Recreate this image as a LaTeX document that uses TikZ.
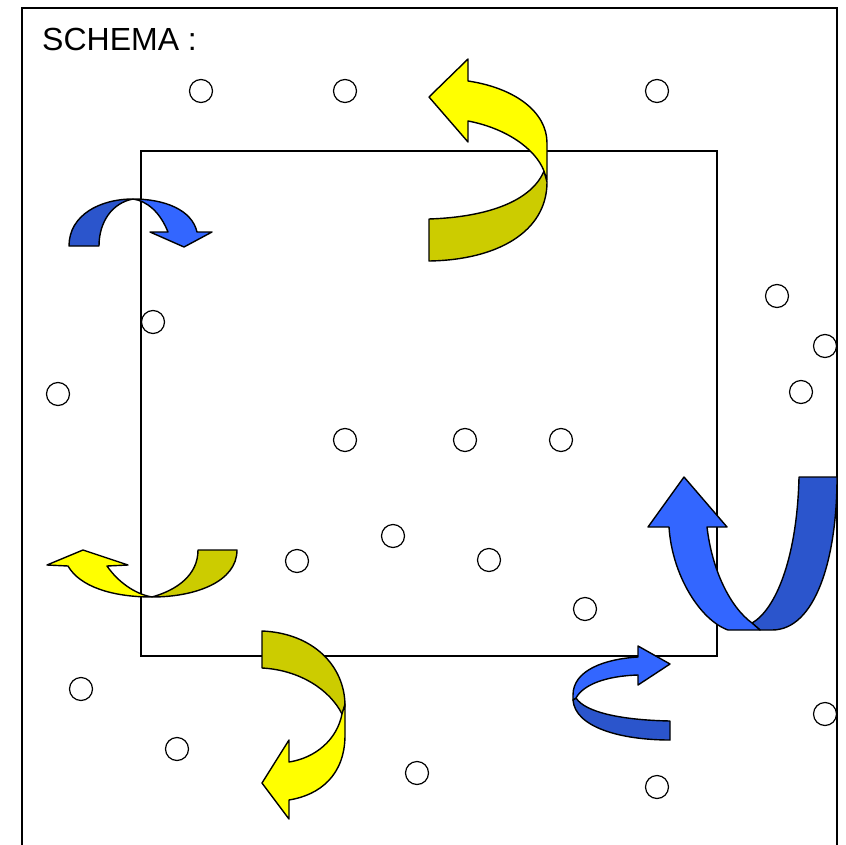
\documentclass[tikz,border=0pt]{standalone}
\usepackage{fontspec}
\setmainfont{Liberation Sans}
\definecolor{yelLight}{HTML}{FFFF00}
\definecolor{yelDark}{HTML}{CCCC00}
\definecolor{bluLight}{HTML}{3366FF}
\definecolor{bluDark}{HTML}{2B55CC}
\tikzset{
  frame/.style={draw=black, line width=1.4pt},
  dot/.style={circle, draw=black, line width=1.2pt, fill=white, minimum size=23pt, inner sep=0pt},
  band/.style={draw=black, line width=1.4pt, line join=round}
}
\begin{document}
\begin{tikzpicture}[x=1pt,y=-1pt]
\useasboundingbox (0,0) rectangle (845,845);
\fill[white] (0,0) rectangle (845,845);
% outer frame and inner rectangle
\begin{scope}
\clip (0,0) rectangle (845,845);
\draw[frame] (22,8) rectangle (837,880);
\end{scope}
\draw[frame] (141,151) rectangle (717,656);
\node[anchor=base west, inner sep=0pt, font=\fontsize{32}{38}\selectfont] (title) at (42,51) {SCHEMA :};

% particles
\foreach \n/\x/\y in {a/201/91, b/345/91, c/657/91, d/777/296, e/825/346, f/801/392,
  g/153/322, h/58/394, i/345/440, j/465/440, k/561/440, l/393/536, m/297/561,
  n/489/560, o/585/609, p/81/689, q/177/749, r/417/773, s/657/787, t/825/714}
  \node[dot] (p\n) at (\x,\y) {};

% top yellow arrow
\draw[band, fill=yelDark] (429,219) .. controls (490,217) and (532,200) .. (544,171)
  -- (547,182) .. controls (547,232) and (497,260) .. (429,261) -- cycle;
\draw[band, fill=yelLight] (544,171) -- (547,180) -- (547,143)
  .. controls (547,112) and (515,88) .. (468,81) -- (468,59) -- (429,97) -- (468,142) -- (468,121)
  .. controls (505,128) and (535,148) .. (544,171) -- cycle;

% top-left blue arrow
\draw[band, fill=bluDark] (69,246) .. controls (69,215) and (100,199) .. (133,199)
  .. controls (112,203) and (99,222) .. (99,246) -- cycle;
\draw[band, fill=bluLight] (133,199) .. controls (165,199) and (192,210) .. (197,232)
  -- (212,232) -- (184,247) -- (150,232) -- (168,232)
  .. controls (160,212) and (147,201) .. (133,199) -- cycle;

% left yellow arrow
\draw[band, fill=yelDark] (237,550) .. controls (237,582) and (195,597) .. (152,597)
  .. controls (177,590) and (198,575) .. (198,550) -- cycle;
\draw[band, fill=yelLight] (152,597) .. controls (113,597) and (80,587) .. (68,566)
  -- (47,565) -- (83,550) -- (128,565) -- (107,566)
  .. controls (118,582) and (135,594) .. (152,597) -- cycle;

% bottom yellow arrow
\draw[band, fill=yelDark] (262,631) .. controls (312,633) and (345,665) .. (345,706)
  -- (342,714) .. controls (330,690) and (300,670) .. (262,668) -- cycle;
\draw[band, fill=yelLight] (342,714) -- (345,704) -- (345,735)
  .. controls (345,775) and (320,795) .. (289,800) -- (289,819) -- (262,783) -- (289,740) -- (289,762)
  .. controls (315,758) and (337,740) .. (342,714) -- cycle;

% bottom-right small blue arrow
\draw[band, fill=bluDark] (576,698) -- (573,700) .. controls (575,727) and (620,740) .. (670,740)
  -- (670,721) .. controls (620,720) and (585,712) .. (576,698) -- cycle;
\draw[band, fill=bluLight] (576,698) -- (573,700) -- (573,695)
  .. controls (573,670) and (605,659) .. (638,657) -- (638,646) -- (670,664) -- (638,685) -- (638,675)
  .. controls (605,676) and (583,685) .. (576,698) -- cycle;

% right big blue arrow
\draw[band, fill=bluDark] (799,477) .. controls (797,560) and (775,610) .. (752,623)
  -- (760,630) -- (772,630) .. controls (815,630) and (837,560) .. (837,477) -- cycle;
\draw[band, fill=bluLight] (752,623) -- (760,630) -- (728,630)
  .. controls (700,620) and (672,575) .. (669,527) -- (648,527) -- (684,477) -- (727,527) -- (707,527)
  .. controls (712,570) and (730,607) .. (752,623) -- cycle;
\end{tikzpicture}
\end{document}
